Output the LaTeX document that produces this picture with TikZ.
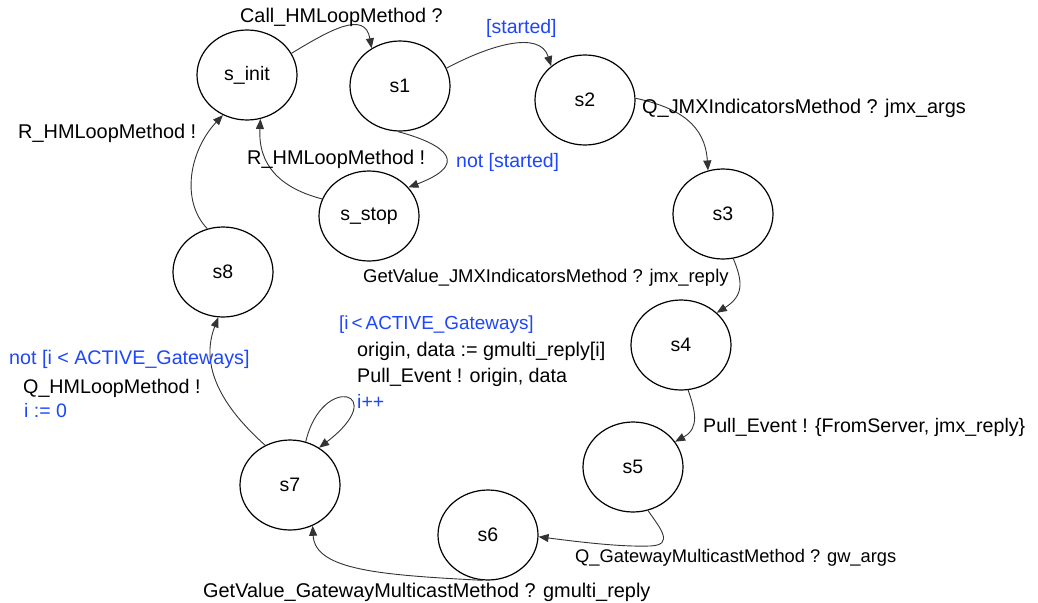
\documentclass[tikz,border=0pt]{standalone}
\usepackage{fontspec}
\setmainfont{Liberation Sans}
\usetikzlibrary{arrows.meta,shapes.geometric}
\definecolor{lblue}{RGB}{30,70,250}
\definecolor{edgec}{RGB}{51,51,51}
\newcommand\labfont{\fontsize{19.5}{23}\selectfont}
\begin{document}
\begin{tikzpicture}[x=1pt,y=-1pt,
  state/.style={draw=black,line width=1.2pt,ellipse,minimum width=100pt,minimum height=90pt,inner sep=0pt,font=\labfont},
  edge/.style={draw=edgec,line width=0.9pt,-{Triangle[length=10pt,width=8pt]}},
  lab/.style={anchor=west,inner sep=0pt,font=\fontsize{#1}{23}\selectfont,text=black},
  lab/.default=19.5,
  blab/.style={lab=#1,text=lblue},
  blab/.default=19.5]
\fill[white] (0,0) rectangle (1038,602);
\useasboundingbox (0,0) rectangle (1038,602);

\node[state] (sinit) at (247,75) {s\_init};
\node[state] (s1) at (400,86) {s1};
\node[state] (s2) at (585,100) {s2};
\node[state] (s3) at (723,214) {s3};
\node[state] (s4) at (681,345) {s4};
\node[state] (s5) at (633,467) {s5};
\node[state] (s6) at (488,535) {s6};
\node[state] (s7) at (290,485) {s7};
\node[state] (s8) at (223,272) {s8};
\node[state] (sstop) at (369,216) {s\_stop};

\draw[edge] (sinit.26) .. controls (330,30) and (365,10) .. (s1.127);
\draw[edge] (s1.21) .. controls (490,45) and (540,30) .. (s2.135);
\draw[edge] (s2.2) .. controls (680,108) and (705,125) .. (s3.109);
\draw[edge] (s3.-77) .. controls (742,280) and (745,295) .. (s4.42);
\draw[edge] (s4.-81) .. controls (695,410) and (700,428) .. (s5.31);
\draw[edge] (s5.-71) .. controls (660,528) and (675,545) .. (650,546) .. controls (620,547) and (580,542) .. (s6.-2);
\draw[edge] (s6.-97) .. controls (380,575) and (315,570) .. (s7.-61);
\draw[edge] (s7.70) .. controls (322,372) and (392,392) .. (s7.52);
\draw[edge] (s7.122) .. controls (220,405) and (200,365) .. (s8.-96);
\draw[edge] (s8.110) .. controls (180,200) and (190,150) .. (sinit.-121);
\draw[edge] (sstop.160) .. controls (280,188) and (258,165) .. (sinit.-73);
\draw[edge] (s1.-93) .. controls (430,140) and (480,160) .. (sstop.36);

\node[lab=19.8] (l1) at (240,17) {Call\_HMLoopMethod ?};
\node[blab] (l2) at (486,28) {[started]};
\node[lab=19.9] (l3) at (642,108) {Q\_JMXIndicatorsMethod ? jmx\_args};
\node[blab] (l4) at (456,162) {not [started]};
\node[lab=19.9] (l5) at (247,159) {R\_HMLoopMethod !};
\node[lab=19.9] (l6) at (18,133) {R\_HMLoopMethod !};
\node[lab=18.45] (l7) at (363,278) {GetValue\_JMXIndicatorsMethod ? jmx\_reply};
\node[blab=18.9] (l8) at (339,325) {[i\hspace{3pt}<\hspace{3pt}ACTIVE\_Gateways]};
\node[lab=19.8] (l9) at (357,351) {origin, data := gmulti\_reply[i]};
\node[lab=19.7] (l10) at (357,377) {Pull\_Event ! origin, data};
\node[blab] (l11) at (357,401) {i++};
\node[blab=19.7] (l12) at (9,359) {not [i < ACTIVE\_Gateways]};
\node[lab=19.7] (l13) at (23,388) {Q\_HMLoopMethod !};
\node[blab] (l14) at (24,411) {i := 0};
\node[lab=19.6] (l15) at (703,427) {Pull\_Event ! \{FromServer, jmx\_reply\}};
\node[lab=18.3] (l16) at (575,558) {Q\_GatewayMulticastMethod ? gw\_args};
\node[lab=19.9] (l17) at (203,592) {GetValue\_GatewayMulticastMethod ? gmulti\_reply};
\end{tikzpicture}
\end{document}
